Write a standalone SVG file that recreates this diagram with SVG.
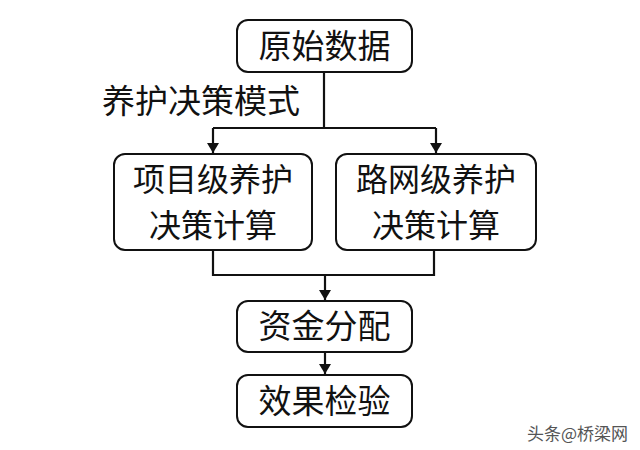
<svg xmlns="http://www.w3.org/2000/svg" width="640" height="450" viewBox="0 0 640 450">
<style>
.box{fill:#fff;stroke:#111;stroke-width:2}
.t{font-family:"Noto Sans CJK SC","Noto Sans CJK JP",sans-serif;font-size:33px;fill:#111;text-anchor:middle}
.t2{font-size:32px}
.c{fill:none;stroke:#111;stroke-width:2.2}
</style>
<defs>
<marker id="ah" viewBox="0 0 10 12" refX="10" refY="6" markerWidth="12" markerHeight="12" markerUnits="userSpaceOnUse" orient="auto">
<path d="M0,0 L10,6 L0,12 Z" fill="#111"/>
</marker>
</defs>
<rect width="640" height="450" fill="#fff"/>
<g id="connectors">
<path class="c" d="M324,72 V128"/>
<path class="c" d="M213,128 H436"/>
<path class="c" d="M213,128 V153" marker-end="url(#ah)"/>
<path class="c" d="M436,128 V153" marker-end="url(#ah)"/>
<path class="c" d="M213,250 V275 H434 V250"/>
<path class="c" d="M325,275 V300" marker-end="url(#ah)"/>
<path class="c" d="M325,352 V374" marker-end="url(#ah)"/>
</g>
<g id="label">
<text x="102" y="113" style="font-family:'Noto Sans CJK SC',sans-serif;font-size:33px;fill:#111">养护决策模式</text>
</g>
<g id="n1">
<rect class="box" x="237" y="20" width="175" height="52" rx="11"/>
<text class="t" x="324.5" y="58">原始数据</text>
</g>
<g id="n2">
<rect class="box" x="114" y="154" width="198" height="96" rx="11"/>
<text class="t t2" x="213" y="191">项目级养护</text>
<text class="t t2" x="213" y="237">决策计算</text>
</g>
<g id="n3">
<rect class="box" x="336" y="154" width="200" height="96" rx="11"/>
<text class="t t2" x="436" y="191">路网级养护</text>
<text class="t t2" x="436" y="237">决策计算</text>
</g>
<g id="n4">
<rect class="box" x="237" y="301" width="175" height="51" rx="11"/>
<text class="t" x="324.5" y="338">资金分配</text>
</g>
<g id="n5">
<rect class="box" x="237" y="375" width="175" height="52" rx="11"/>
<text class="t" x="324.5" y="413">效果检验</text>
</g>
<g id="watermark">
<text x="527" y="440" style="font-family:'Noto Sans CJK SC',sans-serif;font-size:17px;fill:#555">头条@桥梁网</text>
</g>
</svg>
